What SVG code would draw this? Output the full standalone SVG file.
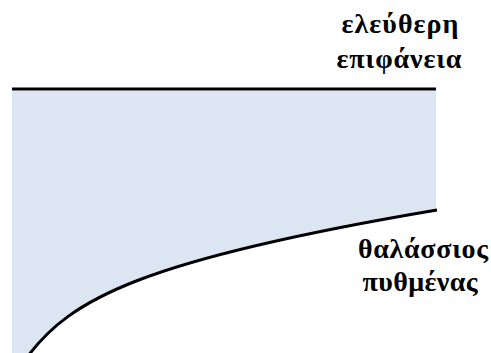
<svg xmlns="http://www.w3.org/2000/svg" width="491" height="353" viewBox="0 0 491 353">
<style>
.lbl{font-family:"Liberation Serif","DejaVu Serif","Times New Roman",serif;font-weight:bold;font-size:28px;fill:#000;text-anchor:middle}
.ln{fill:none;stroke:#000;stroke-width:3}
</style>
<rect width="491" height="353" fill="#fff"/>
<g id="water">
<path d="M12,91 L436,91 L436,210 C 140,260 70,300 30,353 L12,353 Z" fill="#dce6f2"/>
</g>
<g id="connectors">
<line class="ln" x1="12" y1="89" x2="436" y2="89"/>
<path class="ln" d="M437,210 C 140,260 70,300 28,356"/>
</g>
<g id="surface-label">
<text class="lbl" x="400" y="33" textLength="117">ελεύθερη</text>
<text class="lbl" x="399" y="68" textLength="125">επιφάνεια</text>
</g>
<g id="bottom-label">
<text class="lbl" x="423" y="258" textLength="130">θαλάσσιος</text>
<text class="lbl" x="420" y="291" textLength="115">πυθμένας</text>
</g>
</svg>
